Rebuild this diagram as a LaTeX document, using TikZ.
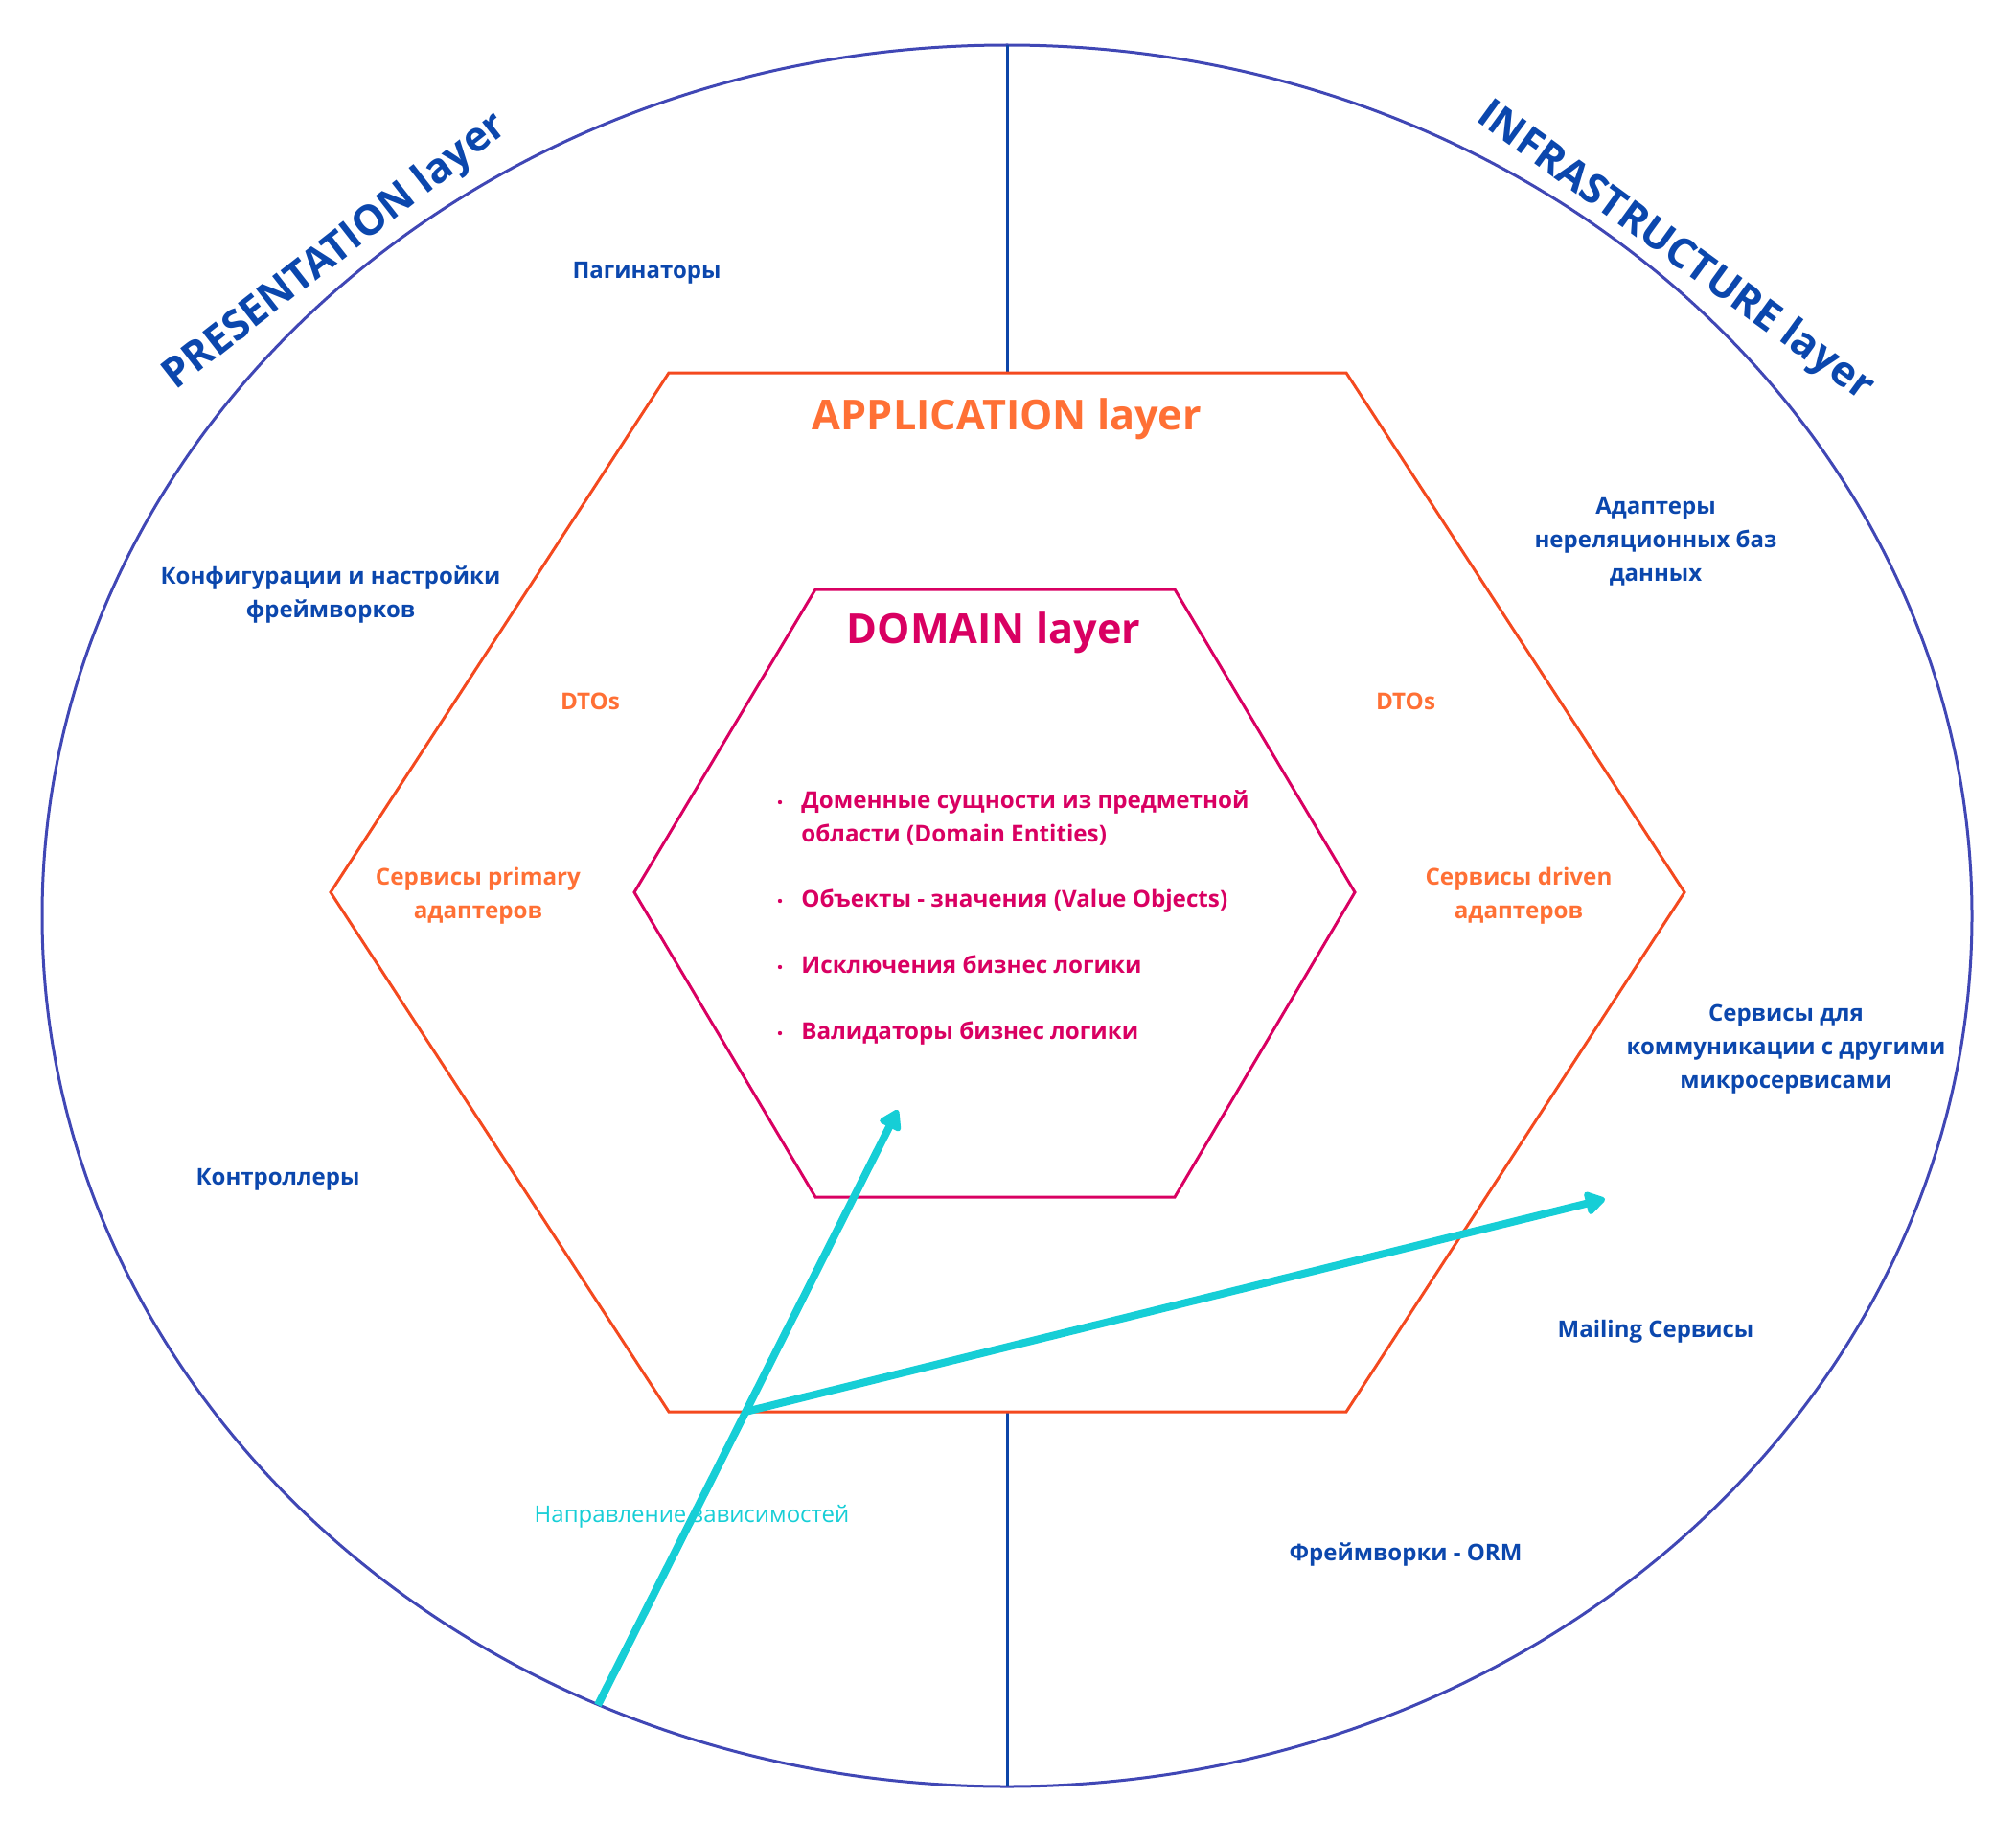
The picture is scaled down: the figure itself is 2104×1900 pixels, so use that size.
\documentclass[tikz,border=0pt]{standalone}
\usepackage{fontspec}
\setmainfont{Open Sans}
\usetikzlibrary{arrows.meta}
\definecolor{ellc}{HTML}{4047B5}
\definecolor{vlc}{HTML}{0D45A8}
\definecolor{bluet}{HTML}{0B47AD}
\definecolor{orhex}{HTML}{F4491F}
\definecolor{ort}{HTML}{FF7035}
\definecolor{crim}{HTML}{D90062}
\definecolor{cyanc}{HTML}{16CED6}
\begin{document}
\begin{tikzpicture}[x=0.5pt,y=-0.5pt,
  bluelbl/.style={text=bluet,font=\fontsize{12}{17.5}\selectfont\bfseries,align=center,inner sep=0pt},
  orlbl/.style={text=ort,font=\fontsize{12.1}{17.5}\selectfont\bfseries,align=center,inner sep=0pt},
  domitem/.style={text=crim,font=\fontsize{12.1}{17.5}\selectfont\bfseries,inner sep=0pt,anchor=base west},
  bigtitle/.style={font=\fontsize{21.6}{26}\selectfont\bfseries,inner sep=0pt},
  dep/.style={draw=cyanc,line width=4pt,-{Triangle[length=11.5pt,width=13.5pt,round]}},
  bulletdot/.style={circle,fill=crim,inner sep=0pt,minimum size=2.2pt}]
\useasboundingbox (0,0) rectangle (2104,1900);

% outer ellipse and dividers
\draw[ellc,line width=1.5pt] (1051,955.5) ellipse [x radius=503.5pt, y radius=454.25pt];
\draw[vlc,line width=1.5pt] (1051,47) -- (1051,389);
\draw[vlc,line width=1.5pt] (1051,1473) -- (1051,1864);

% application hexagon
\draw[orhex,line width=1.5pt] (698,389) -- (1405,389) -- (1758,931) -- (1405,1473) -- (698,1473) -- (345,931) -- cycle;
% domain hexagon
\draw[crim,line width=1.5pt] (851,615) -- (1226,615) -- (1414,931) -- (1226,1249) -- (851,1249) -- (662,931) -- cycle;

% layer titles
\node[bigtitle,text=bluet,rotate=38] (pres) at (350,263) {PRESENTATION layer};
\node[bigtitle,text=bluet,rotate=-36] (infra) at (1748,263) {INFRASTRUCTURE layer};
\node[bigtitle,text=ort] (app) at (1051,437) {APPLICATION layer};
\node[bigtitle,text=crim] (dom) at (1037,660) {DOMAIN layer};

% presentation items
\node[bluelbl] (pag) at (675,285) {Пагинаторы};
\node[bluelbl] (conf) at (345,621) {Конфигурации и настройки\\фреймворков};
\node[bluelbl] (ctrl) at (290,1231) {Контроллеры};

% infrastructure items
\node[bluelbl] (nosql) at (1728,565) {Адаптеры\\нереляционных баз\\данных};
\node[bluelbl] (comm) at (1864,1095) {Сервисы для\\коммуникации с другими\\микросервисами};
\node[bluelbl] (mail) at (1728,1389) {Mailing Сервисы};
\node[bluelbl] (orm) at (1467,1622) {Фреймворки - ORM};

% application items
\node[orlbl] (dtoL) at (616,732) {DTOs};
\node[orlbl] (dtoR) at (1467,732) {DTOs};
\node[orlbl] (prim) at (499,935) {Сервисы primary\\адаптеров};
\node[orlbl] (driv) at (1585,935) {Сервисы driven\\адаптеров};

% domain items
\node[domitem] (d1) at (836,843) {Доменные сущности из предметной};
\node[domitem] (d1b) at (836,878) {области (Domain Entities)};
\node[domitem] (d2) at (836,946) {Объекты - значения (Value Objects)};
\node[domitem] (d3) at (836,1015) {Исключения бизнес логики};
\node[domitem] (d4) at (836,1084) {Валидаторы бизнес логики};
\node[bulletdot] (b1) at (814,837) {};
\node[bulletdot] (b2) at (814,940) {};
\node[bulletdot] (b3) at (814,1009) {};
\node[bulletdot] (b4) at (814,1078) {};

% dependency arrows
\coordinate (depstart) at (624,1779);
\coordinate (domtip) at (937,1158);
\coordinate (junction) at (778,1473);
\coordinate (infratip) at (1675,1251);
\draw[dep] (depstart) -- (domtip);
\draw[dep] (junction) -- (infratip);
\node[text=cyanc,font=\fontsize{12}{15}\selectfont,inner sep=0pt] (deplbl) at (722,1582) {Направление зависимостей};
\end{tikzpicture}
\end{document}
